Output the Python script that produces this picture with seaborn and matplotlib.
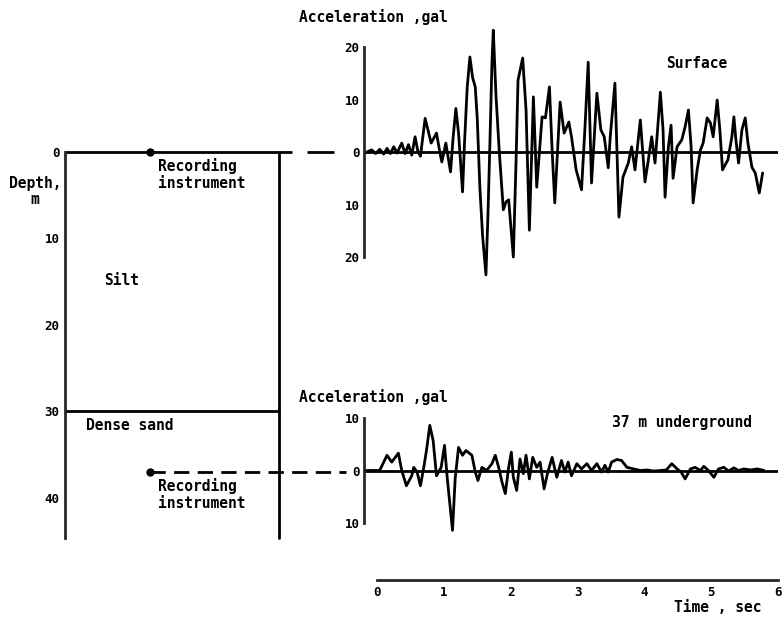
"""
Soil profile with surface and 37 m downhole acceleration records.
"""

import matplotlib
matplotlib.use('Agg')
import matplotlib.pyplot as plt
import seaborn as sns

# ---- data ----
# surface record: time (s), acceleration (gal)
surface_time = [-0.15, -0.08, -0.02, 0.04, 0.10, 0.15, 0.20, 0.25, 0.30, 0.37,
                0.42, 0.47, 0.52, 0.57, 0.61, 0.65, 0.72, 0.77, 0.81, 0.89,
                0.94, 0.97, 1.03, 1.10, 1.14, 1.18, 1.22, 1.25, 1.28, 1.31,
                1.35, 1.39, 1.43, 1.47, 1.50, 1.54, 1.58, 1.63, 1.66, 1.69,
                1.72, 1.74, 1.78, 1.83, 1.89, 1.93, 1.97, 2.04, 2.08, 2.11,
                2.18, 2.23, 2.28, 2.34, 2.39, 2.47, 2.52, 2.58, 2.62, 2.66,
                2.74, 2.80, 2.87, 2.91, 2.98, 3.06, 3.11, 3.16, 3.21, 3.29,
                3.35, 3.40, 3.46, 3.49, 3.56, 3.62, 3.68, 3.76, 3.81, 3.86,
                3.94, 4.01, 4.06, 4.11, 4.16, 4.19, 4.24, 4.28, 4.31, 4.36,
                4.40, 4.43, 4.49, 4.56, 4.61, 4.66, 4.70, 4.73, 4.79, 4.84,
                4.88, 4.94, 4.99, 5.03, 5.09, 5.13, 5.17, 5.25, 5.31, 5.34,
                5.37, 5.41, 5.46, 5.51, 5.55, 5.61, 5.66, 5.72, 5.77]
surface_acc = [0.0, 0.4, -0.3, 0.5, -0.4, 0.7, -0.3, 1.0, -0.2, 1.7,
               -0.3, 1.4, -0.6, 2.9, 0.2, -0.8, 6.4, 3.8, 1.7, 3.6,
               0.0, -1.9, 1.7, -3.8, 2.9, 8.3, 3.6, -1.9, -7.6, 1.9,
               12.4, 18.1, 14.2, 12.4, 6.4, -7.0, -16.0, -23.4, -12.0, 1.9,
               17.0, 23.2, 10.8, 0.0, -11.0, -9.5, -9.1, -20.0, -2.1, 13.7,
               17.9, 8.0, -14.9, 10.5, -6.7, 6.7, 6.5, 12.4, 0.4, -9.7,
               9.5, 3.6, 5.7, 2.9, -3.4, -7.2, 4.2, 17.1, -5.9, 11.2,
               4.2, 2.9, -3.0, 2.9, 13.1, -12.4, -4.8, -2.1, 1.0, -3.4,
               6.1, -5.7, -1.5, 2.9, -2.1, 2.9, 11.4, 4.2, -8.6, 1.0,
               5.1, -5.0, 1.0, 2.3, 4.8, 8.0, 1.0, -9.7, -3.4, 0.4,
               1.7, 6.5, 5.5, 2.9, 9.9, 4.2, -3.4, -1.5, 2.9, 6.7,
               2.3, -2.1, 4.2, 6.5, 1.7, -2.9, -4.0, -7.8, -4.0]

# 37 m underground record: time (s), acceleration (gal)
under_time = [-0.18, 0.04, 0.15, 0.22, 0.32, 0.37, 0.44, 0.52, 0.55, 0.60,
              0.65, 0.70, 0.74, 0.79, 0.84, 0.89, 0.96, 1.01, 1.05, 1.13,
              1.17, 1.22, 1.28, 1.33, 1.42, 1.47, 1.51, 1.57, 1.64, 1.72,
              1.77, 1.82, 1.87, 1.92, 1.97, 2.01, 2.04, 2.09, 2.14, 2.19,
              2.23, 2.28, 2.33, 2.39, 2.44, 2.50, 2.55, 2.62, 2.69, 2.76,
              2.81, 2.86, 2.91, 2.99, 3.06, 3.14, 3.21, 3.29, 3.36, 3.41,
              3.46, 3.51, 3.59, 3.66, 3.74, 3.84, 3.94, 4.04, 4.14, 4.24,
              4.33, 4.41, 4.49, 4.55, 4.61, 4.69, 4.76, 4.84, 4.89, 4.96,
              5.04, 5.11, 5.19, 5.26, 5.34, 5.41, 5.49, 5.59, 5.69, 5.79]
under_acc = [0.0, 0.0, 2.9, 1.6, 3.3, 0.0, -2.9, -1.0, 0.6, -0.3,
             -2.9, 0.6, 3.8, 8.6, 5.7, -1.0, 0.6, 4.8, -1.3, -11.4,
             -1.5, 4.4, 2.9, 3.8, 2.9, -0.3, -1.9, 0.6, 0.0, 1.3,
             2.9, 0.6, -2.2, -4.4, 0.6, 3.5, -1.3, -3.8, 2.2, -0.6,
             2.9, -1.6, 2.5, 0.6, 1.6, -3.5, -0.6, 2.5, -1.3, 1.9,
             -0.3, 1.6, -1.0, 1.3, 0.3, 1.3, 0.0, 1.3, -0.3, 1.0,
             -0.3, 1.6, 2.1, 1.9, 0.6, 0.3, 0.0, 0.1, -0.1, 0.0,
             0.1, 1.3, 0.3, -0.3, -1.6, 0.3, 0.6, 0.0, 0.8, 0.0,
             -1.3, 0.3, 0.6, -0.1, 0.5, 0.0, 0.3, 0.1, 0.3, 0.0]

# soil profile
depth_ticks = [0, 10, 20, 30, 40]
layer_names = ['Silt', 'Dense sand']
sand_top_depth = 30
instrument_depths = [0, 37]
profile_bottom = 44.6
time_ticks = [0, 1, 2, 3, 4, 5, 6]

# ---- figure ----
sns.set_style('white')
plt.rcParams['font.family'] = ['DejaVu Sans Mono']
plt.rcParams['lines.scale_dashes'] = False

W, H = 782, 625
fig = plt.figure(figsize=(W / 100, H / 100), dpi=100)


def px_axes(x0, y0, x1, y1):
    # axes placed by pixel box (origin top-left)
    return fig.add_axes([x0 / W, 1 - y1 / H, (x1 - x0) / W, (y1 - y0) / H])


def px_text(x, y, s, **kw):
    fig.text(x / W, 1 - y / H, s, **kw)


LW = 2.0
txt = dict(fontsize=10.5, fontweight='bold', color='black')
tck = dict(fontsize=9, fontweight='bold', color='black')

# soil column
ax_s = px_axes(65, 152 - 1.5 * 8.65, 364, 152 + 45 * 8.65)
ax_s.set_xlim(0, 1)
ax_s.set_ylim(45, -1.5)
for side in ['top', 'right', 'bottom']:
    ax_s.spines[side].set_visible(False)
ax_s.spines['left'].set_linewidth(LW)
ax_s.spines['left'].set_bounds(0, profile_bottom)
ax_s.set_xticks([])
ax_s.set_yticks(depth_ticks)
ax_s.set_yticklabels([str(d) for d in depth_ticks], **tck)
ax_s.tick_params(axis='y', direction='in', length=6, width=1.5, pad=4)
ax_s.patch.set_alpha(0)

box_right = 0.716
inst_x = 0.284
ax_s.plot([0, 0.76], [instrument_depths[0]] * 2, color='black', lw=LW, solid_capstyle='butt')
ax_s.plot([0.81, 0.9], [instrument_depths[0]] * 2, color='black', lw=LW, solid_capstyle='butt')
ax_s.plot([inst_x, 0.94], [instrument_depths[1]] * 2, color='black', lw=LW,
          dashes=(11, 6), solid_capstyle='butt', dash_capstyle='butt')
ax_s.plot([0, box_right], [sand_top_depth] * 2, color='black', lw=LW)
ax_s.plot([box_right, box_right], [0, profile_bottom], color='black', lw=LW)
ax_s.plot([inst_x] * 2, instrument_depths, 'o', color='black', ms=5)

ax_s.text(0.19, 14.8, layer_names[0], ha='center', va='center', **txt)
ax_s.text(0.07, 31.6, layer_names[1], ha='left', va='center', **txt)
for d in instrument_depths:
    ax_s.text(0.31, d + 2.6, 'Recording\ninstrument', ha='left', va='center',
              linespacing=1.1, **txt)
ax_s.text(-0.1, 4.6, 'Depth,\nm', ha='center', va='center', linespacing=1.1, **txt)

# accelerograms
x0_px = 377 - 0.2 * 66.83


def accel_axes(ax, lim, ticks, t, a):
    ax.set_xlim(-0.2, 6.0)
    ax.set_ylim(-lim, lim)
    for side in ['top', 'right', 'bottom']:
        ax.spines[side].set_visible(False)
    ax.spines['left'].set_linewidth(LW)
    ax.spines['left'].set_bounds(-ticks[-1], ticks[-1])
    ax.set_xticks([])
    ax.set_yticks([-v for v in ticks[::-1]] + [0] + ticks)
    ax.set_yticklabels([str(v) for v in ticks[::-1]] + ['0'] + [str(v) for v in ticks], **tck)
    ax.tick_params(axis='y', direction='in', length=5, width=1.5, pad=3)
    ax.axhline(0, color='black', lw=LW)
    sns.lineplot(x=t, y=a, ax=ax, color='black', lw=LW, estimator=None, sort=False)
    ax.set_xlabel('')
    ax.set_ylabel('')
    ax.patch.set_alpha(0)


ax_top = px_axes(x0_px, 152 - 25 * 5.25, 778, 152 + 25 * 5.25)
accel_axes(ax_top, 25, [10, 20], surface_time, surface_acc)
ax_bot = px_axes(x0_px, 470.5 - 12.5 * 5.25, 778, 470.5 + 12.5 * 5.25)
accel_axes(ax_bot, 12.5, [10], under_time, under_acc)

px_text(299, 17, 'Acceleration ,gal', ha='left', va='center', **txt)
px_text(299, 397, 'Acceleration ,gal', ha='left', va='center', **txt)
px_text(697, 63, 'Surface', ha='center', va='center', **txt)
px_text(682, 422, '37 m underground', ha='center', va='center', **txt)

# time axis
ax_t = px_axes(x0_px, 560, 778, 580)
ax_t.set_xlim(-0.2, 6.0)
for side in ['top', 'right', 'left']:
    ax_t.spines[side].set_visible(False)
ax_t.spines['bottom'].set_linewidth(LW)
ax_t.spines['bottom'].set_bounds(0, 6)
ax_t.set_yticks([])
ax_t.set_xticks(time_ticks)
ax_t.set_xticklabels([str(v) for v in time_ticks], **tck)
ax_t.tick_params(axis='x', direction='in', length=6, width=1.5, pad=4)
ax_t.patch.set_alpha(0)
px_text(718, 607, 'Time , sec', ha='center', va='center', **txt)

fig.savefig('out.png', dpi=100)
